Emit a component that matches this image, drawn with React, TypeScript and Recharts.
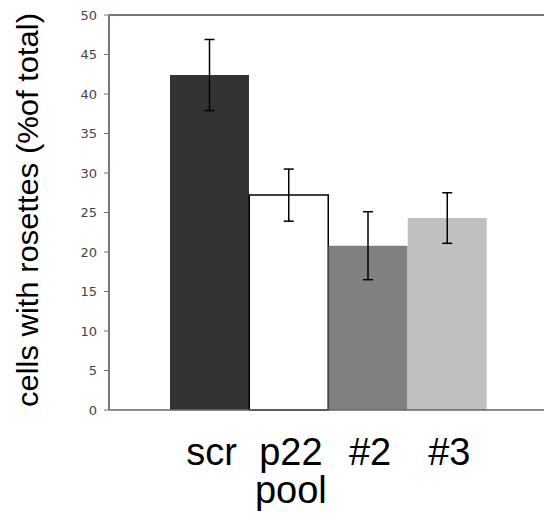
import { Bar, BarChart, Cell, ErrorBar, ReferenceLine, XAxis, YAxis } from "recharts"

const groups = ["scr", "p22\npool", "#2", "#3"]
const rosettes = [42.4, 27.2, 20.8, 24.3]
const sem = [4.5, 3.3, 4.3, 3.2]
const yTicks = [0, 5, 10, 15, 20, 25, 30, 35, 40, 45, 50]

const fills = ["#333333", "#ffffff", "#808080", "#c0c0c0"]
const strokes = ["none", "#000000", "none", "none"]

const data = groups.map((name, i) => ({ name, value: rosettes[i], err: sem[i] }))

const GroupTick = (props: any) => {
  const { x, y, payload } = props
  const lines = String(payload.value).split("\n")
  return (
    <text
      x={x}
      y={y}
      textAnchor="middle"
      fontFamily="'Liberation Sans', Arial, sans-serif"
      fontSize={38}
      fill="#000"
    >
      {lines.map((line, i) => (
        <tspan key={i} x={x + 2} dy={i === 0 ? 55 : 38}>
          {line}
        </tspan>
      ))}
    </text>
  )
}

const YTitle = () => (
  <text
    transform="translate(38, 210) rotate(-90)"
    textAnchor="middle"
    fontFamily="'Liberation Sans', Arial, sans-serif"
    fontSize={30}
    textLength={394}
    lengthAdjust="spacingAndGlyphs"
    fill="#000"
  >
    cells with rosettes (%of total)
  </text>
)

const App = () => {
  return (
    <div style={{ position: "absolute", left: 0, top: 0, background: "#fff" }}>
      <BarChart
        width={544}
        height={525}
        data={data}
        margin={{ top: 15, right: 0, bottom: 0, left: 0 }}
        barCategoryGap={0}
      >
        <XAxis
          dataKey="name"
          height={115}
          padding={{ left: 61, right: 57 }}
          tickLine={false}
          tickSize={0}
          tickMargin={0}
          axisLine={{ stroke: "#666", strokeWidth: 1.5 }}
          tick={<GroupTick />}
          interval={0}
        />
        <YAxis
          width={109}
          domain={[0, 50]}
          ticks={yTicks}
          interval={0}
          tickSize={5}
          tickMargin={7}
          axisLine={{ stroke: "#777", strokeWidth: 2 }}
          tickLine={{ stroke: "#777" }}
          tick={{ fontSize: 13, fill: "#444", fontFamily: "'DejaVu Sans', Verdana, sans-serif" }}
          label={{ content: () => <YTitle /> }}
        />
        <ReferenceLine y={50} stroke="#777" strokeWidth={2} />
        <Bar dataKey="value" isAnimationActive={false}>
          {data.map((d, i) => (
            <Cell key={d.name} fill={fills[i]} stroke={strokes[i]} strokeWidth={1.5} />
          ))}
          <ErrorBar dataKey="err" width={5} stroke="#000" strokeWidth={1.5} isAnimationActive={false} />
        </Bar>
      </BarChart>
    </div>
  )
}

export default App
